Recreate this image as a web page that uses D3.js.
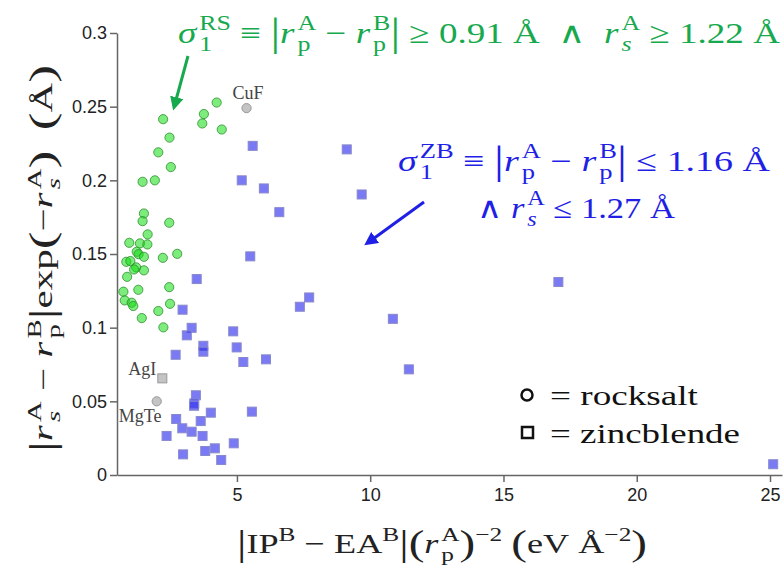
<!DOCTYPE html>
<meta charset="utf-8">
<style>
body { margin: 0; background: #fff; }
svg { display: block; }
.axis path, .axis line { stroke: #666; stroke-width: 1.5; }
.axis text { font: 18px "Liberation Sans", Arial, sans-serif; fill: #222; }
</style>
<body>
<script src="https://cdn.jsdelivr.net/npm/d3@7"></script>
<script>

// rocksalt (circles)
var rocksaltX = [2.23, 2.47, 2.05, 2.52, 1.46, 1.92, 3.76, 3.70, 4.24, 4.43,
  1.51, 1.46, 2.46, 1.65, 0.96, 1.36, 1.64, 1.24, 1.31, 1.51, 2.22, 2.76,
  0.85, 1.00, 1.22, 1.51, 1.14, 0.88, 1.30, 0.74, 2.46, 0.79, 1.05, 1.11,
  2.49, 2.05, 1.43, 2.24];
var rocksaltY = [0.2415, 0.229, 0.219, 0.209, 0.199, 0.200, 0.245, 0.2386, 0.2528, 0.2345,
  0.1775, 0.1723, 0.1712, 0.1633, 0.1576, 0.1572, 0.1565, 0.1515, 0.1499, 0.1481, 0.1474, 0.1501,
  0.1447, 0.1452, 0.1409, 0.1389, 0.1395, 0.1345, 0.1257, 0.1244, 0.1275, 0.1185, 0.1169, 0.1147,
  0.1162, 0.1113, 0.1065, 0.1002];

// zincblende (squares)
var zincX = [5.59, 5.18, 6.01, 9.12, 9.68, 6.59, 5.50, 3.49, 7.36, 7.71,
  2.96, 3.30, 3.12, 4.86, 3.74, 3.74, 4.99, 2.70, 5.24, 6.09,
  10.85, 11.45, 17.06, 25.12, 3.46, 3.40, 3.39, 4.02, 5.56, 2.72,
  3.64, 2.95, 3.30, 2.36, 3.71, 4.88, 2.98, 3.81, 4.17, 4.41];
var zincY = [0.2234, 0.200, 0.1945, 0.221, 0.1904, 0.1784, 0.1484, 0.133, 0.1142, 0.1205,
  0.1122, 0.0999, 0.0948, 0.0975, 0.0877, 0.0837, 0.0866, 0.0816, 0.0767, 0.0785,
  0.106, 0.0717, 0.131, 0.0073, 0.0541, 0.0486, 0.047, 0.0423, 0.0430, 0.038,
  0.0366, 0.0317, 0.0294, 0.0265, 0.0265, 0.0215, 0.014, 0.0163, 0.0181, 0.0102];

// misclassified compounds (grey)
var outlierNames = ["CuF", "AgI", "MgTe"];
var outlierShape = ["circle", "square", "circle"];
var outlierX = [5.36, 2.20, 1.99];
var outlierY = [0.249, 0.0656, 0.050];

var xTicks = [5, 10, 15, 20, 25];
var yTicks = [0, 0.05, 0.1, 0.15, 0.2, 0.25, 0.3];

var width = 784, height = 569;
var serif = "'Liberation Serif', 'DejaVu Serif', serif";

var x = d3.scaleLinear().domain([0.5, 25.45]).range([117, 782]);
var y = d3.scaleLinear().domain([0, 0.3]).range([475, 33]);

var svg = d3.select("body").append("svg")
    .attr("width", width)
    .attr("height", height);

svg.append("g")
    .attr("class", "axis")
    .attr("transform", "translate(0," + y(0) + ")")
    .call(d3.axisBottom(x).tickValues(xTicks).tickSize(7).tickSizeOuter(0).tickPadding(6));

svg.append("g")
    .attr("class", "axis")
    .attr("transform", "translate(" + x(0.5) + ",0)")
    .call(d3.axisLeft(y).tickValues(yTicks).tickSize(7).tickSizeOuter(0).tickPadding(3)
      .tickFormat(function(d) { return String(d); }));

// points
var sq = 9;

svg.append("g").selectAll("rect")
    .data(d3.range(zincX.length))
  .enter().append("rect")
    .attr("x", function(i) { return x(zincX[i]) - sq / 2; })
    .attr("y", function(i) { return y(zincY[i]) - sq / 2; })
    .attr("width", sq)
    .attr("height", sq)
    .style("fill", "#3333ee")
    .style("fill-opacity", 0.65)
    .style("stroke", "#8888cc")
    .style("stroke-width", 1);

svg.append("g").selectAll("circle")
    .data(d3.range(rocksaltX.length))
  .enter().append("circle")
    .attr("cx", function(i) { return x(rocksaltX[i]); })
    .attr("cy", function(i) { return y(rocksaltY[i]); })
    .attr("r", 4.6)
    .style("fill", "#11dd11")
    .style("fill-opacity", 0.55)
    .style("stroke", "#2f8f2f")
    .style("stroke-opacity", 0.8)
    .style("stroke-width", 1);

var out = svg.append("g").selectAll("g")
    .data(d3.range(outlierNames.length))
  .enter().append("g");

out.filter(function(i) { return outlierShape[i] === "circle"; }).append("circle")
    .attr("cx", function(i) { return x(outlierX[i]); })
    .attr("cy", function(i) { return y(outlierY[i]); })
    .attr("r", 4.6);
out.filter(function(i) { return outlierShape[i] === "square"; }).append("rect")
    .attr("x", function(i) { return x(outlierX[i]) - sq / 2; })
    .attr("y", function(i) { return y(outlierY[i]) - sq / 2; })
    .attr("width", sq)
    .attr("height", sq);
out.selectAll("circle, rect")
    .style("fill", "#c4c4c4")
    .style("stroke", "#999")
    .style("stroke-width", 1);

// label offsets for the grey compounds
var labelDx = [-14, -6, -38], labelDy = [-9, -3, 21];
out.append("text")
    .attr("x", function(i) { return x(outlierX[i]) + labelDx[i]; })
    .attr("y", function(i) { return y(outlierY[i]) + labelDy[i]; })
    .attr("text-anchor", function(i) { return i === 1 ? "end" : "start"; })
    .style("font", "18px " + serif)
    .style("fill", "#444")
    .text(function(i) { return outlierNames[i]; });

// ---- rich math text helper: lays pieces out left to right, then stretches to the given width ----
function rich(parent, parts, o) {
  var g = parent.append("g").attr("transform", o.transform || ("translate(" + o.x + "," + o.y + ")"));
  var t = g.append("g");
  var size = o.size, cx = 0;
  function nb(s) { return s.replace(/ /g, "\u00a0"); }
  function put(s, dy, fs, ital, fam) {
    var el = t.append("text")
        .attr("x", cx)
        .attr("y", dy)
        .style("font-family", fam || serif)
        .style("font-size", fs + "px")
        .style("font-style", ital ? "italic" : "normal")
        .style("fill", o.fill)
        .text(nb(s));
    return el.node().getComputedTextLength();
  }
  parts.forEach(function(p) {
    if (typeof p === "string") cx += put(p, 0, size, false);
    else if (p.i) cx += put(p.i, 0, size, true) + size * 0.08;
    else if (p.sym) cx += put(p.sym, 0, size, false, "'DejaVu Sans', sans-serif");
    else if (p.big) cx += put(p.big, size * 0.08, size * 1.3, false);
    else {
      // stacked super/subscript inside one text element
      var el = t.append("text")
          .style("font-family", serif)
          .style("font-size", (size * 0.7) + "px")
          .style("fill", o.fill);
      var w1 = 0, w2 = 0;
      if (p.sup) w1 = el.append("tspan").attr("x", cx).attr("y", -size * 0.42).text(p.sup).node().getComputedTextLength();
      if (p.sub) w2 = el.append("tspan").attr("x", cx).attr("y", size * 0.28)
          .style("font-style", p.subI ? "italic" : "normal").text(p.sub).node().getComputedTextLength();
      cx += Math.max(w1, w2);
    }
  });
  if (o.width) t.attr("transform", "scale(" + (o.width / cx) + ",1)");
  return g;
}

var green = "#17a94e", blue = "#1f1fe6";

rich(svg, [{i: "σ"}, {sup: "RS", sub: "1"}, " ≡ ", {big: "|"}, {i: "r"}, {sup: "A", sub: "p"}, " − ",
    {i: "r"}, {sup: "B", sub: "p"}, {big: "|"}, " ≥ 0.91 Å  ", {sym: "∧"}, "  ", {i: "r"}, {sup: "A", sub: "s", subI: true},
    " ≥ 1.22 Å"],
  {x: 178, y: 43, size: 30, width: 602, fill: green});

rich(svg, [{i: "σ"}, {sup: "ZB", sub: "1"}, " ≡ ", {big: "|"}, {i: "r"}, {sup: "A", sub: "p"}, " − ",
    {i: "r"}, {sup: "B", sub: "p"}, {big: "|"}, " ≤ 1.16 Å"],
  {x: 398, y: 171, size: 30, width: 372, fill: blue});

rich(svg, [{sym: "∧"}, " ", {i: "r"}, {sup: "A", sub: "s", subI: true}, " ≤ 1.27 Å"],
  {x: 477, y: 218, size: 30, width: 198, fill: blue});

// x label
rich(svg, [{big: "|"}, "IP", {sup: "B"}, " − EA", {sup: "B"}, {big: "|"}, {big: "("}, {i: "r"}, {sup: "A", sub: "p"},
    {big: ")"}, {sup: "−2"}, " ", {big: "("}, "eV Å", {sup: "−2"}, {big: ")"}],
  {x: 237, y: 553, size: 28, width: 410, fill: "#222"});

// y label
rich(svg, [{big: "|"}, {i: "r"}, {sup: "A", sub: "s", subI: true}, " − ", {i: "r"}, {sup: "B", sub: "p"}, {big: "|"},
    "exp", {big: "("}, "−", {i: "r"}, {sup: "A", sub: "s", subI: true}, {big: ")"}, "  ", {big: "("}, "Å", {big: ")"}],
  {transform: "translate(52,452) rotate(-90)", size: 27, width: 387, fill: "#222"});

// arrows
var defs = svg.append("defs");
[["ga", green], ["ba", blue]].forEach(function(m) {
  defs.append("marker")
      .attr("id", m[0])
      .attr("viewBox", "0 0 10 10")
      .attr("refX", 2)
      .attr("refY", 5)
      .attr("markerWidth", 4.5)
      .attr("markerHeight", 4.5)
      .attr("orient", "auto")
    .append("path")
      .attr("d", "M0,0L10,5L0,10z")
      .style("fill", m[1]);
});

svg.append("line")
    .attr("x1", 188).attr("y1", 56).attr("x2", 176).attr("y2", 100)
    .style("stroke", green).style("stroke-width", 3)
    .attr("marker-end", "url(#ga)");

svg.append("line")
    .attr("x1", 424).attr("y1", 202).attr("x2", 373).attr("y2", 239)
    .style("stroke", blue).style("stroke-width", 3)
    .attr("marker-end", "url(#ba)");

// legend
var leg = svg.append("g");
leg.append("circle")
    .attr("cx", 527).attr("cy", 395).attr("r", 5.5)
    .style("fill", "none").style("stroke", "#111").style("stroke-width", 2.5);
leg.append("rect")
    .attr("x", 522).attr("y", 427).attr("width", 11).attr("height", 11)
    .style("fill", "none").style("stroke", "#111").style("stroke-width", 2.5);
rich(leg, ["= rocksalt"], {x: 550, y: 405, size: 27, width: 148, fill: "#111"});
rich(leg, ["= zincblende"], {x: 550, y: 443, size: 27, width: 190, fill: "#111"});

</script>
